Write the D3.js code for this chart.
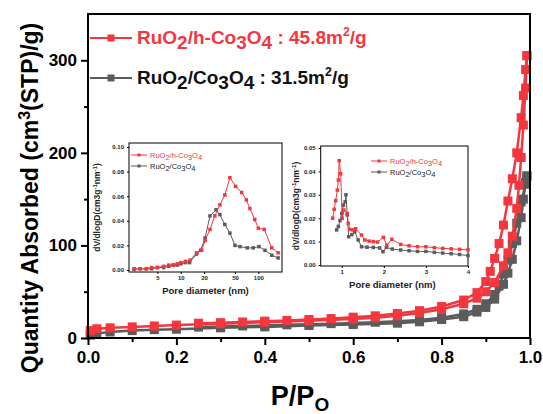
<!DOCTYPE html>
<html>
<head>
<meta charset="utf-8">
<script src="https://cdn.jsdelivr.net/npm/d3@7"></script>
<style>
  body { margin: 0; background: #fff; }
  text { font-family: "Liberation Sans", Arial, sans-serif; font-weight: bold; }
</style>
</head>
<body>
<svg width="543" height="414"></svg>
<script>
// ---- main isotherm data (P/P0, volume) ----
var redAdsP = [0.005, 0.02, 0.05, 0.1, 0.15, 0.2, 0.3, 0.4, 0.5, 0.6, 0.65, 0.7, 0.75, 0.8, 0.85, 0.88, 0.9, 0.92, 0.94, 0.95, 0.96, 0.97, 0.975, 0.98, 0.985, 0.99, 0.993];
var redAdsV = [8, 10, 11, 12, 13, 14, 15.5, 17, 18.5, 20.5, 22, 24, 27, 31, 37, 43, 50, 60, 78, 92, 110, 140, 165, 195, 230, 270, 305];
var redDesP = [0.993, 0.99, 0.985, 0.98, 0.97, 0.96, 0.95, 0.94, 0.93, 0.92, 0.91, 0.9, 0.88, 0.85, 0.8, 0.75, 0.7, 0.65, 0.6, 0.55, 0.5, 0.45, 0.4, 0.35, 0.3, 0.25];
var redDesV = [305, 290, 262, 238, 200, 172, 148, 122, 102, 86, 72, 61, 49, 41, 34, 29.5, 26.5, 24, 22.5, 21, 20, 19, 18.2, 17.3, 16.6, 16];
var grayAdsP = [0.005, 0.02, 0.05, 0.1, 0.15, 0.2, 0.3, 0.4, 0.5, 0.6, 0.7, 0.75, 0.8, 0.85, 0.88, 0.9, 0.92, 0.94, 0.95, 0.96, 0.97, 0.98, 0.985, 0.99, 0.993];
var grayAdsV = [3, 5, 6.5, 8, 9, 9.5, 11, 12, 13.5, 14.5, 16, 17.5, 20, 23, 28, 33, 42, 58, 70, 85, 105, 130, 150, 168, 175];
var grayDesP = [0.993, 0.99, 0.98, 0.97, 0.96, 0.95, 0.94, 0.93, 0.92, 0.9, 0.88, 0.85, 0.8, 0.75, 0.7, 0.65, 0.6, 0.55, 0.5, 0.45, 0.4, 0.35, 0.3, 0.25];
var grayDesV = [175, 166, 147, 124, 102, 84, 69, 56, 47, 37, 31, 26, 22, 19.5, 18, 17, 16.2, 15.5, 14.8, 14.2, 13.6, 13, 12.4, 11.8];

var xTicks = [0, 0.2, 0.4, 0.6, 0.8, 1.0];
var yTicks = [0, 100, 200, 300];

// ---- inset 1: pore size distribution (nm, dV/dlogD) ----
var pd1D = [2.5, 3, 3.6, 4.2, 5, 6, 7, 8, 9, 10, 11.5, 13.2, 16, 18.6, 20.6, 23.8, 27.5, 32, 37, 43, 51, 61, 70, 78, 90, 100, 119, 149, 180];
var pd1Red = [0.001, 0.001, 0.001, 0.002, 0.002, 0.003, 0.004, 0.004, 0.005, 0.006, 0.007, 0.008, 0.014, 0.016, 0.024, 0.033, 0.044, 0.053, 0.061, 0.075, 0.068, 0.063, 0.057, 0.05, 0.041, 0.034, 0.033, 0.018, 0.014];
var pd1GrayD = [2.5, 3, 3.6, 4.2, 5, 6, 7, 8, 9, 10, 11.5, 13, 16, 18, 20.6, 23.8, 28.5, 32, 37, 43, 50, 58, 72, 86, 102, 122, 149, 180];
var pd1Gray = [0.0005, 0.001, 0.001, 0.001, 0.002, 0.002, 0.003, 0.004, 0.004, 0.005, 0.006, 0.006, 0.013, 0.016, 0.026, 0.044, 0.049, 0.045, 0.037, 0.030, 0.020, 0.019, 0.018, 0.018, 0.019, 0.016, 0.012, 0.0098];
var pd1XTicks = [5, 10, 20, 50, 100];
var pd1YTicks = [0, 0.02, 0.04, 0.06, 0.08, 0.10];

// ---- inset 2: micropore region ----
var pd2RedD = [0.785, 0.82, 0.856, 0.895, 0.92, 0.94, 0.975, 1.01, 1.05, 1.13, 1.155, 1.195, 1.27, 1.33, 1.47, 1.55, 1.65, 1.75, 1.85, 1.99, 2.07, 2.19, 2.4, 2.6, 2.8, 3.0, 3.2, 3.4, 3.6, 3.8, 4.0];
var pd2Red = [0.020, 0.0238, 0.0275, 0.032, 0.0363, 0.0446, 0.039, 0.020, 0.0235, 0.022, 0.0178, 0.0152, 0.015, 0.0155, 0.0128, 0.0107, 0.0102, 0.010, 0.0098, 0.0118, 0.0085, 0.011, 0.0088, 0.0082, 0.0078, 0.0078, 0.0074, 0.0071, 0.0069, 0.0067, 0.0065];
var pd2GrayD = [0.88, 0.92, 0.96, 1.0, 1.04, 1.08, 1.1, 1.13, 1.165, 1.24, 1.31, 1.39, 1.47, 1.6, 1.75, 1.9, 1.98, 2.06, 2.2, 2.4, 2.6, 2.8, 3.0, 3.2, 3.4, 3.6, 3.8, 4.0];
var pd2Gray = [0.015, 0.0165, 0.019, 0.022, 0.0256, 0.027, 0.030, 0.0214, 0.0121, 0.013, 0.0142, 0.0107, 0.0078, 0.0076, 0.0075, 0.0073, 0.0057, 0.0075, 0.0068, 0.0064, 0.0061, 0.0058, 0.0058, 0.0054, 0.0051, 0.0048, 0.0045, 0.0040];
var pd2XTicks = [1, 2, 3, 4];
var pd2YTicks = [0, 0.01, 0.02, 0.03, 0.04, 0.05];

var RED = "#f4363f", GRAY = "#5b5b5b";

var svg = d3.select("svg");

function zip(a, b) { return a.map(function (v, i) { return [v, b[i]]; }); }

// ---------- main plot ----------
var x = d3.scaleLinear().domain([0, 1]).range([88, 530]);
var y = d3.scaleLinear().domain([0, 350]).range([338, 14]);

var line = d3.line().x(function (d) { return x(d[0]); }).y(function (d) { return y(d[1]); });

function drawSeries(g, data, color, ln, sx, sy, size, lw) {
    g.append("path").datum(data)
        .attr("fill", "none").attr("stroke", color).attr("stroke-width", lw)
        .attr("d", ln);
    g.selectAll(null).data(data).enter().append("rect")
        .attr("x", function (d) { return sx(d[0]) - size / 2; })
        .attr("y", function (d) { return sy(d[1]) - size / 2; })
        .attr("width", size).attr("height", size)
        .attr("fill", color);
}

var main = svg.append("g");
drawSeries(main, zip(grayAdsP, grayAdsV), GRAY, line, x, y, 9, 2.5);
drawSeries(main, zip(grayDesP, grayDesV), GRAY, line, x, y, 9, 2.5);
drawSeries(main, zip(redAdsP, redAdsV), RED, line, x, y, 9, 2.5);
drawSeries(main, zip(redDesP, redDesV), RED, line, x, y, 9, 2.5);

// frame
svg.append("rect").attr("x", 88).attr("y", 14).attr("width", 442).attr("height", 324)
    .attr("fill", "none").attr("stroke", "#000").attr("stroke-width", 2);

// axes
var xAxis = svg.append("g").attr("transform", "translate(0,338)")
    .call(d3.axisBottom(x).tickValues(xTicks).tickFormat(d3.format(".1f")).tickSize(7).tickPadding(6));
svg.append("g").attr("transform", "translate(0,338)")
    .call(d3.axisBottom(x).tickValues([0.1, 0.3, 0.5, 0.7, 0.9]).tickFormat("").tickSize(4));
var yAxis = svg.append("g").attr("transform", "translate(88,0)")
    .call(d3.axisLeft(y).tickValues(yTicks).tickSize(7).tickPadding(4));
svg.append("g").attr("transform", "translate(88,0)")
    .call(d3.axisLeft(y).tickValues([50, 150, 250]).tickFormat("").tickSize(4));
svg.selectAll(".domain").remove();
svg.selectAll(".tick line").attr("stroke-width", 2);
xAxis.selectAll("text").style("font-size", "17px").style("font-weight", "bold").attr("fill", "#000");
yAxis.selectAll("text").style("font-size", "17px").style("font-weight", "bold").attr("fill", "#000");

// axis titles
var yt = svg.append("text").attr("transform", "translate(38,198) rotate(-90)")
    .attr("text-anchor", "middle").style("font-size", "23px");
yt.append("tspan").text("Quantity Absorbed (cm");
yt.append("tspan").attr("dy", -8).style("font-size", "16px").text("3");
yt.append("tspan").attr("dy", 8).text("(STP)/g)");

var xt = svg.append("text").attr("x", 300).attr("y", 405).attr("text-anchor", "middle").style("font-size", "27px");
xt.append("tspan").text("P/P");
xt.append("tspan").attr("dy", 6).style("font-size", "19px").text("O");

// main legend
function subLabel(g, xx, yy, size, color, parts) {
    var t = g.append("text").attr("x", xx).attr("y", yy).attr("fill", color).style("font-size", size + "px");
    parts.forEach(function (p) {
        var ts = t.append("tspan").text(p[0]);
        if (p[1] === "sub") ts.attr("dy", size * 0.28);
        if (p[1] === "sup") ts.attr("dy", -size * 0.4).style("font-size", (size * 0.65) + "px");
        if (p[1] === "back") ts.attr("dy", -size * 0.28);
        if (p[1] === "backsup") ts.attr("dy", size * 0.4);
    });
    return t;
}

function legendItem(g, x1, x2, yy, color, size, lw) {
    g.append("line").attr("x1", x1).attr("x2", x2).attr("y1", yy).attr("y2", yy)
        .attr("stroke", color).attr("stroke-width", lw);
    g.append("rect").attr("x", (x1 + x2) / 2 - size / 2).attr("y", yy - size / 2)
        .attr("width", size).attr("height", size).attr("fill", color);
}

legendItem(svg, 90, 132, 38, RED, 7, 2);
subLabel(svg, 137, 44, 19, RED, [["RuO"], ["2", "sub"], ["/h-Co", "back"], ["3", "sub"], ["O", "back"], ["4", "sub"], [" : 45.8m", "back"], ["2", "sup"], ["/g", "backsup"]]);
legendItem(svg, 90, 132, 78, GRAY, 7, 2);
subLabel(svg, 137, 84, 19, "#111", [["RuO"], ["2", "sub"], ["/Co", "back"], ["3", "sub"], ["O", "back"], ["4", "sub"], [" : 31.5m", "back"], ["2", "sup"], ["/g", "backsup"]]);

// ---------- insets ----------
function inset(opt) {
    var g = svg.append("g");
    g.append("rect").attr("x", opt.x0).attr("y", opt.y0).attr("width", opt.x1 - opt.x0).attr("height", opt.y1 - opt.y0)
        .attr("fill", "#fff").attr("stroke", "#000").attr("stroke-width", 1);
    var sx = opt.sx, sy = opt.sy;
    var ln = d3.line().x(function (d) { return sx(d[0]); }).y(function (d) { return sy(d[1]); });
    var clip = g.append("g");
    drawSeries(clip, opt.gray, GRAY, ln, sx, sy, 3.5, 1);
    drawSeries(clip, opt.red, RED, ln, sx, sy, 3.5, 1);

    var ax = g.append("g").attr("transform", "translate(0," + opt.y1 + ")")
        .call(d3.axisBottom(sx).tickValues(opt.xt).tickFormat(d3.format("d")).tickSize(2).tickPadding(2));
    var ay = g.append("g").attr("transform", "translate(" + opt.x0 + ",0)")
        .call(d3.axisLeft(sy).tickValues(opt.yt).tickFormat(d3.format(".2f")).tickSize(2).tickPadding(3));
    g.selectAll(".domain").remove();
    g.selectAll(".tick text").style("font-size", "6px").attr("fill", "#222");

    g.append("text").attr("x", (opt.x0 + opt.x1) / 2 + opt.xtDx).attr("y", opt.y1 + 22)
        .attr("text-anchor", "middle").style("font-size", "9.5px").attr("fill", "#222").text("Pore diameter (nm)");

    var lab = g.append("text").attr("transform", "translate(" + opt.ylx + "," + ((opt.y0 + opt.y1) / 2) + ") rotate(-90)")
        .attr("text-anchor", "middle").style("font-size", "8.5px").attr("fill", "#222");
    lab.append("tspan").text("dV/dlogD(cm3g");
    lab.append("tspan").attr("dy", -3).style("font-size", "6px").text("-1");
    lab.append("tspan").attr("dy", 3).text("nm");
    lab.append("tspan").attr("dy", -3).style("font-size", "6px").text("-1");
    lab.append("tspan").attr("dy", 3).text(")");

    legendItem(g, opt.lx, opt.lx + 16, opt.ly, RED, 3, 1);
    subLabel(g, opt.lx + 19, opt.ly + 3, 7.5, RED, [["RuO"], ["2", "sub"], ["/h-Co", "back"], ["3", "sub"], ["O", "back"], ["4", "sub"]]).style("font-weight", "normal");
    legendItem(g, opt.lx, opt.lx + 16, opt.ly + 11, GRAY, 3, 1);
    subLabel(g, opt.lx + 19, opt.ly + 14, 7.5, "#222", [["RuO"], ["2", "sub"], ["/Co", "back"], ["3", "sub"], ["O", "back"], ["4", "sub"]]).style("font-weight", "normal");
}

var s1x = d3.scaleLog().domain([2.15, 202]).range([129, 282]);
var s1y = d3.scaleLinear().domain([0, 0.1]).range([270, 147]);
inset({
    x0: 129, x1: 282, y0: 143, y1: 272, sx: s1x, sy: s1y,
    red: zip(pd1D, pd1Red), gray: zip(pd1GrayD, pd1Gray),
    xt: pd1XTicks, yt: pd1YTicks, ylx: 100, xtDx: 0, lx: 131, ly: 155
});

var s2x = d3.scaleLinear().domain([0.5, 4]).range([320.7, 468]);
var s2y = d3.scaleLinear().domain([0, 0.05]).range([265, 148]);
inset({
    x0: 320.7, x1: 468, y0: 146, y1: 266, sx: s2x, sy: s2y,
    red: zip(pd2RedD, pd2Red), gray: zip(pd2GrayD, pd2Gray),
    xt: pd2XTicks, yt: pd2YTicks, ylx: 299, xtDx: -2, lx: 371, ly: 161
});
</script>
</body>
</html>
